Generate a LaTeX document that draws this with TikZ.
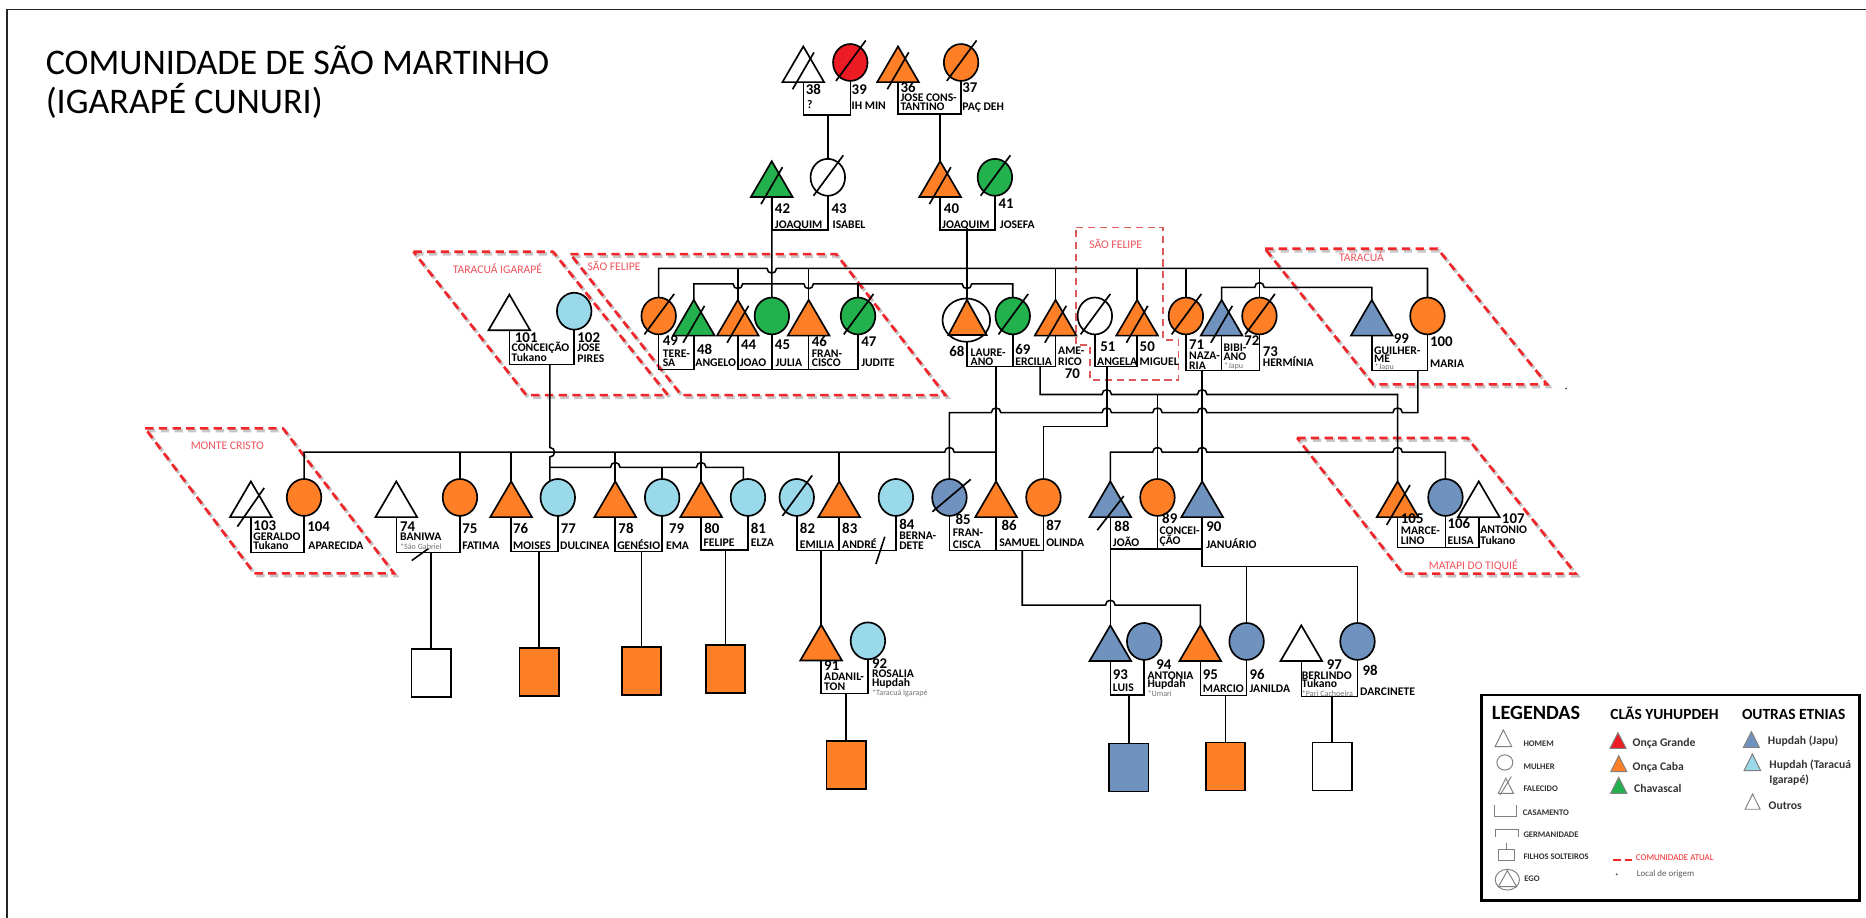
\documentclass[tikz,border=0pt]{standalone}
\usepackage{fontspec}
\setmainfont{Carlito}
\usetikzlibrary{backgrounds}
\definecolor{corange}{RGB}{255,127,39}
\definecolor{cred}{RGB}{237,28,36}
\definecolor{cgreen}{RGB}{34,177,76}
\definecolor{cblue}{RGB}{112,146,190}
\definecolor{clblue}{RGB}{153,217,234}
\definecolor{commred}{RGB}{242,38,42}
\definecolor{commtxt}{RGB}{238,82,92}
\definecolor{commlt}{RGB}{222,90,90}
\pgfdeclarelayer{bg}
\pgfsetlayers{bg,main}
% line jumps: bump up, bump down, and a vertical line jumping to the right
\newcommand\hopu[2]{-- ({#1-4},#2) .. controls ({#1-4},{#2-5.3}) and ({#1+4},{#2-5.3}) .. ({#1+4},#2)}
\newcommand\hopd[2]{-- ({#1-4},#2) .. controls ({#1-4},{#2+5.3}) and ({#1+4},{#2+5.3}) .. ({#1+4},#2)}
\newcommand\hopr[2]{-- (#1,{#2-4}) .. controls ({#1+5.3},{#2-4}) and ({#1+5.3},{#2+4}) .. (#1,{#2+4})}
% people: name, x, base line, fill
\newcommand\male[4]{%
  \filldraw[shp, fill=#4] ({#2-17.5},#3) -- (#2,{#3-30}) -- ({#2+17.5},#3) -- cycle;
  \coordinate (#1-t) at (#2,{#3-30});
  \coordinate (#1-b) at (#2,#3);}
\newcommand\female[4]{%
  \filldraw[shp, fill=#4] (#2,{#3-16.5}) ellipse [x radius=14.5pt, y radius=15.5pt];
  \coordinate (#1-t) at (#2,{#3-32});
  \coordinate (#1-b) at (#2,{#3-1});}
\newcommand\deadm[2]{\draw[shp] ({#1-9},{#2+6}) -- ({#1+9},{#2-25});}
\newcommand\deadf[2]{\draw[shp] ({#1-12},{#2-1}) -- ({#1+13},{#2-35});}
% unmarried children: name, x, top, fill
\newcommand\kids[4]{%
  \filldraw[shp, fill=#4] ({#2-16.5},#3) rectangle ({#2+16.5},{#3+40.5});
  \coordinate (#1-t) at (#2,#3);}
\newcommand\numlab[4]{\node[numn] (#1) at (#2,#3) {#4};}
\newcommand\namlab[4]{\node[namn] (#1) at (#2,#3) {#4};}
\newcommand\tinylab[4]{\node[tinyn] (#1) at (#2,#3) {#4};}
\begin{document}
\begin{tikzpicture}[x=1pt,y=-1pt,
  ln/.style={line width=1.3pt},
  shp/.style={draw=black, line width=1.4pt},
  numn/.style={anchor=base west, inner sep=0pt, font=\fontsize{12.5}{12.5}\selectfont\bfseries},
  namn/.style={anchor=base west, inner sep=0pt, font=\fontsize{9.8}{9.8}\selectfont\bfseries},
  tinyn/.style={anchor=base west, inner sep=0pt, font=\fontsize{6.8}{6.8}\selectfont, text=black!55},
  commlab/.style={inner sep=0pt, font=\fontsize{9.8}{9.8}\selectfont, text=commtxt},
  comm/.style={draw=commred, line width=2.2pt, dash pattern=on 7pt off 4.5pt},
  commsh/.style={draw=black, opacity=0.22, line width=3pt, dash pattern=on 7pt off 4.5pt, shift={(1.6,1.8)}},
  lgs/.style={draw=black!50, line width=0.8pt},
  lgt/.style={anchor=west, inner sep=0pt, font=\fontsize{7.2}{7.2}\selectfont\bfseries, text=black!80},
  lgc/.style={anchor=west, inner sep=0pt, font=\fontsize{9.8}{9.8}\selectfont\bfseries, text=black!80}]
\useasboundingbox (0,0) rectangle (1568,771);

% frame
\draw[line width=1.3pt, black!85] (6,771) -- (6,8) -- (1568,8);

% title
\node[anchor=base west, inner sep=0pt, font=\fontsize{30.3}{30}\selectfont] (title1) at (38.3,63) {COMUNIDADE DE SÃO MARTINHO};
\node[anchor=base west, inner sep=0pt, font=\fontsize{30.3}{30}\selectfont] (title2) at (38.3,95.2) {(IGARAPÉ CUNURI)};

% ---------- generation I ----------
\male{P38}{675}{69}{white} \deadm{675}{69}
\female{P39}{714.5}{69}{cred} \deadf{714.5}{69}
\male{P36}{754.6}{69}{corange} \deadm{754.6}{69}
\female{P37}{807.6}{69}{corange} \deadf{807.6}{69}

% ---------- generation II ----------
\male{P42}{648.5}{165.5}{cgreen} \deadm{648.5}{165.5}
\female{P43}{695.6}{165.5}{white} \deadf{695.6}{165.5}
\male{P40}{790}{165.5}{corange} \deadm{790}{165.5}
\female{P41}{836}{165.5}{cgreen} \deadf{836}{165.5}

% ---------- generation III ----------
\male{P101}{428}{277.5}{white}
\female{P102}{482.5}{278}{clblue}
\female{P49}{553.5}{282}{corange} \deadf{553.5}{282}
\male{P48}{583}{282}{cgreen} \deadm{583}{282}
\male{P44}{620}{282}{corange} \deadm{620}{282}
\female{P45}{648.6}{282}{cgreen}
\male{P46}{679.5}{282}{corange}
\female{P47}{721}{282}{cgreen} \deadf{721}{282}
% ego
\filldraw[shp, fill=white] (812,269) ellipse [x radius=20pt, y radius=18.2pt];
\filldraw[shp, fill=corange] (797,281.5) -- (812.5,252) -- (829,281.5) -- cycle;
\coordinate (P68-t) at (812.5,252);
\coordinate (P68-b) at (812.5,287.2);
\female{P69}{851}{282}{cgreen} \deadf{851}{282}
\male{P70}{887}{282}{corange} \deadm{887}{282}
\female{P51}{920}{282}{white} \deadf{920}{282}
\male{P50}{955.5}{282}{corange} \deadm{955.5}{282}
\female{P71}{996.5}{282}{corange} \deadf{996.5}{282}
\male{P72}{1026.5}{282}{cblue} \deadm{1026.5}{282}
\female{P73}{1058.3}{282}{corange} \deadf{1058.3}{282}
\male{P99}{1152.7}{282}{cblue}
\female{P100}{1199.5}{282}{corange}

% ---------- generation IV ----------
\male{P103}{210.8}{434.5}{white} \draw[shp] (199.5,442.5) -- (222,410);
\female{P104}{255.5}{434.5}{corange}
\male{P74}{333}{434.5}{white}
\female{P75}{386.5}{434.5}{corange}
\male{P76}{429.5}{434.5}{corange}
\female{P77}{468.7}{434.5}{clblue}
\male{P78}{517}{434.5}{corange}
\female{P79}{556.4}{434.5}{clblue}
\male{P80}{589.2}{434.5}{corange}
\female{P81}{628.5}{434.5}{clblue}
\female{P82}{669.5}{434.5}{clblue} \deadf{669.5}{434.5}
\male{P83}{705.2}{434.5}{corange}
\female{P84}{752.8}{434.5}{clblue}
\female{P85}{797.8}{434.5}{cblue} \draw[shp] (783.5,430) -- (815.7,402.8);
\male{P86}{837}{434.5}{corange}
\female{P87}{876.8}{434.5}{corange}
\male{P88}{933}{434.5}{cblue} \draw[shp] (922,445.5) -- (944.3,416.8);
\female{P89}{972.6}{434.5}{corange}
\male{P90}{1010.2}{434.5}{cblue}
\male{P105}{1174.4}{434.5}{corange} \draw[shp] (1165.2,441.1) -- (1184.8,407.5);
\female{P106}{1214.6}{434.5}{cblue}
\male{P107}{1242.6}{434.5}{white}

% ---------- generation V ----------
\male{P91}{690}{555}{corange}
\female{P92}{729.3}{555}{clblue}
\male{P93}{933}{555.5}{cblue}
\female{P94}{961.5}{555.5}{cblue}
\male{P95}{1008.6}{555.5}{corange}
\female{P96}{1047.5}{555.5}{cblue}
\male{P97}{1093.5}{555.5}{white}
\female{P98}{1140.7}{555.5}{cblue}

% unmarried children
\kids{S74}{362.2}{545.4}{white}
\kids{S76}{453.1}{544.3}{corange}
\kids{S78}{539.1}{543.4}{corange}
\kids{S80}{609.5}{542}{corange}
\kids{S91}{711.1}{622.4}{corange}
\kids{S93}{948.6}{624.7}{cblue}
\kids{S95}{1029.8}{623.8}{corange}
\kids{S97}{1119.4}{623.8}{white}

\begin{pgfonlayer}{bg}
\fill[white] (0,0) rectangle (1568,771);
% present-day communities
\draw[commsh] (347.4,211.5) -- (464.7,211.5) -- (561.2,332) -- (442.2,332) -- cycle;
\draw[comm] (347.4,211.5) -- (464.7,211.5) -- (561.2,332) -- (442.2,332) -- cycle;
\draw[commsh] (479.2,213.5) -- (702.7,213.5) -- (794.4,332) -- (572.5,332) -- cycle;
\draw[comm] (479.2,213.5) -- (702.7,213.5) -- (794.4,332) -- (572.5,332) -- cycle;
\draw[commsh] (1063,209) -- (1208,209) -- (1300,323) -- (1154,323) -- cycle;
\draw[comm] (1063,209) -- (1208,209) -- (1300,323) -- (1154,323) -- cycle;
\draw[commsh] (122,360) -- (237.8,360) -- (331.1,481.8) -- (213.7,481.8) -- cycle;
\draw[comm] (122,360) -- (237.8,360) -- (331.1,481.8) -- (213.7,481.8) -- cycle;
\draw[commsh] (1090,368) -- (1233,368) -- (1324,482) -- (1179,482) -- cycle;
\draw[comm] (1090,368) -- (1233,368) -- (1324,482) -- (1179,482) -- cycle;
\draw[draw=commlt, line width=1.3pt, dash pattern=on 6pt off 4pt]
  (904.3,191) -- (977.3,191) -- (977.3,285.7) -- (990.2,285.7) -- (990.2,319.3)
  -- (916,319.3) -- (916,290) -- (904.3,290) -- cycle;

% generation I
\draw[ln] (P38-b) -- (P38-b |- 0,96.6) -| (P39-b);
\draw[ln] (P36-b) -- (P36-b |- 0,96) -| (P37-b);
\draw[ln] (P43-t |- 0,96.6) -- (P43-t);
\draw[ln] (P40-t |- 0,96) -- (P40-t);
% generation II
\draw[ln] (P42-b) -- (P42-b |- 0,193.3) -| (P43-b);
\draw[ln] (P40-b) -- (P40-b |- 0,193.3) -| (P41-b);
\draw[ln] (P42-b) -- (P45-t);
\draw[ln] (P68-t |- 0,193.3) -- (P68-t);
% siblings of generation III
\draw[ln] (P49-t) -- (P49-t |- 0,225.5) \hopd{648.5}{225.5} -- (P100-t |- 0,225.5) -- (P100-t);
\foreach \p in {P44,P46,P70,P50,P71,P73} \draw[ln] (\p-t |- 0,225.5) -- (\p-t);
\draw[ln] (P48-t) -- (P48-t |- 0,238.5) \hopd{620}{238.5} \hopd{679.5}{238.5} \hopd{812.5}{238.5} -- (P69-t |- 0,238.5) -- (P69-t);
\draw[ln] (P47-t |- 0,238.5) -- (P47-t);
\draw[ln] (P72-t) -- (P72-t |- 0,241.5) \hopu{1058.3}{241.5} -- (P99-t |- 0,241.5) -- (P99-t);
% marriages of generation III
\draw[ln] (P101-b) -- (P101-b |- 0,306.2) -| (P102-b);
\draw[ln] (P49-b) -- (P49-b |- 0,310.4) -| (P48-b);
\draw[ln] (P44-b) -- (P44-b |- 0,310.4) -| (P47-b);
\draw[ln] (P45-b) -- (P45-b |- 0,310.4);
\draw[ln] (P46-b) -- (P46-b |- 0,310.4);
\draw[ln] (P68-b) -- (P68-b |- 0,308.1) -| (P70-b);
\draw[ln] (P69-b) -- (P69-b |- 0,308.1);
\draw[ln] (P51-b) -- (P51-b |- 0,308.1) -| (P50-b);
\draw[ln] (P71-b) -- (P71-b |- 0,311.5) -| (P73-b);
\draw[ln] (P72-b) -- (P72-b |- 0,311.5);
\draw[ln] (P99-b) -- (P99-b |- 0,311.5) -| (P100-b);
% descent to generation IV
\draw[ln] (P86-t |- 0,308.1) -- (P86-t);
\draw[ln] (P104-t) -- (P104-t |- 0,380) \hopu{797.8}{380} -- (P86-t |- 0,380);
\foreach \p in {P75,P76,P78,P80} \draw[ln] (\p-t |- 0,380) -- (\p-t);
\draw[ln, line width=2pt] (P83-t |- 0,380) -- (P83-t);
\draw[ln] (462,306.2) \hopr{462}{380} -- (462,406);
\draw[ln] (462,392.7) \hopu{517}{392.7} \hopu{589.2}{392.7} -- (624.6,392.7) -- (624.6,406);
\draw[ln] (P79-t |- 0,392.7) -- (P79-t);
\draw[ln] (P85-t) -- (P85-t |- 0,346.8) \hopu{837}{346.8} \hopu{930}{346.8} \hopu{972.6}{346.8} \hopu{1010.2}{346.8} \hopu{1174.4}{346.8} -- (1191.5,346.8) -- (1191.5,311.5);
\draw[ln] (874,308.1) -- (874,331.5) \hopu{930}{331.5} \hopu{1010.2}{331.5} -- (P105-t |- 0,331.5) -- (P105-t);
\draw[ln] (P89-t |- 0,331.5) -- (P89-t);
\draw[ln] (930,308.1) -- (930,358.5) -- (P87-t |- 0,358.5) -- (P87-t);
\draw[ln] (P90-t |- 0,311.5) -- (P90-t);
\draw[ln] (P88-t) -- (P88-t |- 0,380) \hopu{972.6}{380} \hopu{1010.2}{380} \hopu{1174.4}{380} -- (P106-t |- 0,380) -- (P106-t);
% marriages of generation IV
\draw[ln] (P103-b) -- (P103-b |- 0,464.4) -| (P104-b);
\draw[ln] (P74-b) -- (P74-b |- 0,464.4) -| (P75-b);
\draw[ln] (346,471) -- (360,461);
\draw[ln] (P76-b) -- (P76-b |- 0,463.6) -| (P77-b);
\draw[ln] (P78-b) -- (P78-b |- 0,463.6) -| (P79-b);
\draw[ln] (P80-b) -- (P80-b |- 0,462.1) -| (P81-b);
\draw[ln] (P82-b) -- (P82-b |- 0,462.7) -| (P84-b);
\draw[ln, line width=2pt] (P83-b) -- (P83-b |- 0,462.7);
\draw[ln] (736,474) -- (743.5,451);
\draw[ln] (P85-b) -- (P85-b |- 0,462.7) -| (P87-b);
\draw[ln] (P86-b) -- (P86-b |- 0,462.7);
\draw[ln] (P88-b) -- (P88-b |- 0,461.3) -| (P90-b);
\draw[ln] (P89-b) -- (P89-b |- 0,461.3);
\draw[ln] (P105-b) -- (P105-b |- 0,459.9) -| (P107-b);
\draw[ln] (P106-b) -- (P106-b |- 0,459.9);
% descent to generation V
\foreach \s/\y in {S74/464.4,S76/463.6,S78/463.6,S80/462.1} \draw[ln] (\s-t |- 0,\y) -- (\s-t);
\draw[ln] (P91-t |- 0,462.7) -- (P91-t);
\draw[ln] (859,462.7) -- (859,508.4) \hopu{933}{508.4} -- (P95-t |- 0,508.4) -- (P95-t);
\draw[ln] (P88-b) -- (P93-t);
\draw[ln] (P90-b) -- (P90-b |- 0,476.2) -- (P98-t |- 0,476.2) -- (P98-t);
\draw[ln] (P96-t |- 0,476.2) -- (P96-t);
% marriages of generation V
\draw[ln] (P91-b) -- (P91-b |- 0,582.6) -| (P92-b);
\draw[ln] (S91-t |- 0,582.6) -- (S91-t);
\draw[ln] (P93-b) -- (P93-b |- 0,584) -| (P94-b);
\draw[ln] (S93-t |- 0,584) -- (S93-t);
\draw[ln] (P95-b) -- (P95-b |- 0,584.6) -| (P96-b);
\draw[ln] (S95-t |- 0,584.6) -- (S95-t);
\draw[ln] (P97-b) -- (P97-b |- 0,585.4) -| (P98-b);
\draw[ln] (S97-t |- 0,585.4) -- (S97-t);
\end{pgfonlayer}

% community names
\node[commlab] (tTI) at (418,225.5) {TARACUÁ IGARAPÉ};
\node[commlab] (tSF) at (516,223.6) {SÃO FELIPE};
\node[commlab] (tSF2) at (937.5,205) {SÃO FELIPE};
\node[commlab] (tTA) at (1144,215.7) {TARACUÁ};
\node[commlab] (tMC) at (191,374.8) {MONTE CRISTO};
\node[commlab] (tMT) at (1238,474.8) {MATAPI DO TIQUIÉ};
\fill[black!70] (1316,326.4) circle [radius=0.8pt];

% labels, generation I
\numlab{n38}{677}{79.5}{38} \namlab{m38}{678}{91.5}{?}
\numlab{n39}{715.5}{79.5}{39} \namlab{m39}{715.5}{92.4}{IH MIN}
\numlab{n36}{756.5}{77.5}{36} \namlab{m36a}{756.5}{85.5}{JOSE CONS-} \namlab{m36b}{756.5}{93}{TANTINO}
\numlab{n37}{808.5}{77.5}{37} \namlab{m37}{808.5}{93}{PAÇ DEH}
% labels, generation II
\numlab{n42}{651}{179.8}{42} \namlab{m42}{651}{191.9}{JOAQUIM}
\numlab{n43}{698.6}{179.8}{43} \namlab{m43}{699.5}{191.9}{ISABEL}
\numlab{n40}{793}{179.8}{40} \namlab{m40}{791.5}{191.9}{JOAQUIM}
\numlab{n41}{839}{175}{41} \namlab{m41}{840}{191.9}{JOSEFA}
% labels, generation III
\numlab{n101}{432.5}{288}{101} \namlab{m101a}{429.8}{295.5}{CONCEIÇÃO} \namlab{m101b}{429.8}{303.9}{Tukano}
\numlab{n102}{485}{288}{102} \namlab{m102a}{485}{295.5}{JOSE} \namlab{m102b}{485}{304.5}{PIRES}
\numlab{n49}{556.8}{290}{49} \namlab{m49a}{556.8}{300.3}{TERE-} \namlab{m49b}{556.8}{308}{SA}
\numlab{n48}{585.5}{297.5}{48} \namlab{m48}{584.2}{308}{ANGELO}
\numlab{n44}{622.5}{294}{44} \namlab{m44}{621.5}{308}{JOAO}
\numlab{n45}{651}{294}{45} \namlab{m45}{651.5}{308}{JULIA}
\numlab{n46}{682}{291}{46} \namlab{m46a}{682}{300.3}{FRAN-} \namlab{m46b}{682}{308}{CISCO}
\numlab{n47}{723.5}{291.3}{47} \namlab{m47}{723.5}{308}{JUDITE}
\numlab{n68}{797.5}{299.2}{68} \namlab{m68a}{815.5}{299.7}{LAURE-} \namlab{m68b}{815.5}{307.5}{ANO}
\numlab{n69}{853}{298}{69} \namlab{m69}{853}{307}{ERCILIA}
\namlab{m70a}{889}{298.3}{AME-} \namlab{m70b}{889}{307}{RICO} \numlab{n70}{894.5}{318}{70}
\numlab{n51}{924.5}{295.5}{51} \namlab{m51}{921.8}{307}{ANGELA}
\numlab{n50}{957.5}{295.5}{50} \namlab{m50}{957.5}{307}{MIGUEL}
\numlab{n71}{999}{294}{71} \namlab{m71a}{999}{302.5}{NAZA-} \namlab{m71b}{999}{310.5}{RIA}
\namlab{m72a}{1028}{295.6}{BIBI-} \namlab{m72b}{1028}{303}{ANO} \tinylab{s72}{1028.5}{309.5}{*Japu}
\numlab{n72}{1045.5}{290}{72}
\numlab{n73}{1061}{299.7}{73} \namlab{m73}{1061}{308}{HERMÍNIA}
\numlab{n99}{1171}{288.5}{99} \namlab{m99a}{1154.5}{297.5}{GUILHER-} \namlab{m99b}{1154.5}{305}{ME} \tinylab{s99}{1155}{310.5}{*Japu}
\numlab{n100}{1201.5}{291.3}{100} \namlab{m100}{1201.5}{309}{MARIA}
% labels, generation IV
\numlab{n103}{212.8}{445.6}{103} \namlab{m103a}{212.8}{454.4}{GERALDO} \namlab{m103b}{212.8}{462}{Tukano}
\numlab{n104}{258}{446.7}{104} \namlab{m104}{259}{462}{APARECIDA}
\numlab{n74}{336}{446.7}{74} \namlab{m74}{336}{454.3}{BANIWA} \tinylab{s74}{336}{461.5}{*São Gabriel}
\numlab{n75}{388.3}{448.7}{75} \namlab{m75}{388.3}{462}{FATIMA}
\numlab{n76}{431}{448.1}{76} \namlab{m76}{431}{461.6}{MOISES}
\numlab{n77}{471}{448.1}{77} \namlab{m77}{470.5}{461.6}{DULCINEA}
\numlab{n78}{519.5}{448.7}{78} \namlab{m78}{518.5}{461.6}{GENÉSIO}
\numlab{n79}{562}{448.7}{79} \namlab{m79}{559.5}{461.6}{EMA}
\numlab{n80}{591.6}{448}{80} \namlab{m80}{591}{459.4}{FELIPE}
\numlab{n81}{630.7}{448.1}{81} \namlab{m81}{630.7}{459.4}{ELZA}
\numlab{n82}{672}{448.1}{82} \namlab{m82}{672}{460.8}{EMILIA}
\numlab{n83}{707.5}{448.1}{83} \namlab{m83}{707.5}{460.8}{ANDRÉ}
\numlab{n84}{755.5}{445.3}{84} \namlab{m84a}{755.5}{453.7}{BERNA-} \namlab{m84b}{755.5}{462.1}{DETE}
\numlab{n85}{802.8}{441.1}{85} \namlab{m85a}{800.5}{450.9}{FRAN-} \namlab{m85b}{800.5}{460.8}{CISCA}
\numlab{n86}{841.4}{445.9}{86} \namlab{m86}{839.5}{459.4}{SAMUEL}
\numlab{n87}{879}{445.9}{87} \namlab{m87}{879}{459.4}{OLINDA}
\numlab{n88}{936.3}{446.7}{88} \namlab{m88}{935}{459.4}{JOÃO}
\numlab{n89}{976.4}{440.3}{89} \namlab{m89a}{974.2}{449.5}{CONCEI-} \namlab{m89b}{974.2}{457.9}{ÇÃO}
\numlab{n90}{1013.4}{446.7}{90} \namlab{m90}{1013.4}{460.8}{JANUÁRIO}
\numlab{n105}{1177}{440.3}{105} \namlab{m105a}{1177}{449.5}{MARCE-} \namlab{m105b}{1177}{457.9}{LINO}
\numlab{n106}{1216.2}{444}{106} \namlab{m106}{1216.2}{457.9}{ELISA}
\numlab{n107}{1261.9}{439.7}{107} \namlab{m107a}{1243.7}{448.1}{ANTONIO} \namlab{m107b}{1243.7}{457.9}{Tukano}
% labels, generation V
\numlab{n91}{692.4}{563.6}{91} \namlab{m91a}{692.4}{572}{ADANIL-} \namlab{m91b}{692.4}{579.8}{TON}
\numlab{n92}{732.6}{561.6}{92} \namlab{m92a}{732.6}{569.2}{ROSALIA} \namlab{m92b}{732.6}{576.5}{Hupdah} \tinylab{s92}{732.6}{584.8}{*Taracuá Igarapé}
\numlab{n93}{935}{570.9}{93} \namlab{m93}{935}{581.2}{LUIS}
\numlab{n94}{971.4}{562.5}{94} \namlab{m94a}{964.1}{570.9}{ANTONIA} \namlab{m94b}{964.1}{578}{Hupdah} \tinylab{s94}{964.1}{585.5}{*Umari}
\numlab{n95}{1010.6}{570.9}{95} \namlab{m95}{1010.6}{582.1}{MARCIO}
\numlab{n96}{1049.8}{570.9}{96} \namlab{m96}{1049.8}{582.1}{JANILDA}
\numlab{n97}{1114.8}{562.5}{97} \namlab{m97a}{1093.8}{570.6}{BERLINDO} \namlab{m97b}{1093.8}{577.6}{Tukano} \tinylab{s97}{1093.8}{585}{*Pari Cachoeira}
\numlab{n98}{1144.8}{567.2}{98} \namlab{m98}{1142.8}{584.3}{DARCINETE}

% ---------- legend ----------
\draw[line width=2.4pt] (1245,584) rectangle (1562.5,757);
\node[anchor=base west, inner sep=0pt, font=\fontsize{17}{17}\selectfont\bfseries] (lgA) at (1253.5,604.5) {LEGENDAS};
\node[anchor=base west, inner sep=0pt, font=\fontsize{13}{13}\selectfont\bfseries] (lgB) at (1353,604.5) {CLÃS YUHUPDEH};
\node[anchor=base west, inner sep=0pt, font=\fontsize{13}{13}\selectfont\bfseries] (lgC) at (1463.6,604.5) {OUTRAS ETNIAS};
\draw[lgs] (1256.3,627.4) -- (1263.3,613.4) -- (1270.3,627.4) -- cycle;
\node[lgt] (lg1) at (1280,624.6) {HOMEM};
\draw[lgs] (1264.5,640.7) ellipse [x radius=6.7pt, y radius=6.4pt];
\node[lgt] (lg2) at (1280,644) {MULHER};
\draw[lgs] (1259,666.6) -- (1265.3,654) -- (1271.7,666.6) -- cycle;
\draw[lgs] (1260.5,668) -- (1270,652.5);
\node[lgt] (lg3) at (1280,662.4) {FALECIDO};
\draw[lgs] (1255.5,676.4) -- (1255.5,685.7) -- (1274.5,685.7) -- (1274.5,676.4);
\node[lgt] (lg4) at (1279.5,683) {CASAMENTO};
\draw[lgs] (1256.3,703) -- (1256.3,696.9) -- (1275.9,696.9) -- (1275.9,703);
\node[lgt] (lg5) at (1280,701.5) {GERMANIDADE};
\draw[lgs] (1265.7,708.1) -- (1265.7,713.7);
\draw[lgs] (1259.1,713.7) rectangle (1272.3,723.2);
\node[lgt] (lg6) at (1280,720) {FILHOS SOLTEIROS};
\draw[lgs] (1266.6,739.2) ellipse [x radius=10.2pt, y radius=8.7pt];
\draw[lgs] (1259.1,745.1) -- (1266.6,731.6) -- (1274.5,745.1) -- cycle;
\node[lgt] (lg7) at (1280.7,738) {EGO};
\draw[lgs, fill=cred] (1352.9,628.8) -- (1359.6,615.7) -- (1366.4,628.8) -- cycle;
\node[lgc] (lg8) at (1371.7,624.8) {Onça Grande};
\draw[lgs, fill=corange] (1353.5,648.4) -- (1360.2,635) -- (1367,648.4) -- cycle;
\node[lgc] (lg9) at (1371.7,644.6) {Onça Caba};
\draw[lgs, fill=cgreen] (1353.5,666.6) -- (1360.2,653.2) -- (1367,666.6) -- cycle;
\node[lgc] (lg10) at (1373,662.8) {Chavascal};
\draw[draw=commred, line width=1.6pt, dash pattern=on 6.5pt off 3.5pt] (1355.2,722.7) -- (1372,722.7);
\node[anchor=west, inner sep=0pt, font=\fontsize{7.5}{7.5}\selectfont, text=commred] (lg11) at (1374.5,720.7) {COMUNIDADE ATUAL};
\fill[black!70] (1358.5,734.7) circle [radius=0.9pt];
\node[anchor=west, inner sep=0pt, font=\fontsize{7.5}{7.5}\selectfont, text=black!65] (lg12) at (1375.3,734.7) {Local de origem};
\draw[lgs, fill=cblue] (1465,628) -- (1471.7,614.8) -- (1478.4,628) -- cycle;
\node[lgc] (lg13) at (1485.4,622.8) {Hupdah (Japu)};
\draw[lgs, fill=clblue] (1465.5,647.6) -- (1472.5,633.6) -- (1479.5,647.6) -- cycle;
\node[lgc] (lg14) at (1486.6,643.2) {Hupdah (Taracuá};
\node[lgc] (lg15) at (1486.6,655.8) {Igarapé)};
\draw[lgs] (1466.4,680) -- (1472.7,667.2) -- (1479,680) -- cycle;
\node[lgc] (lg16) at (1486,677) {Outros};
\end{tikzpicture}
\end{document}
